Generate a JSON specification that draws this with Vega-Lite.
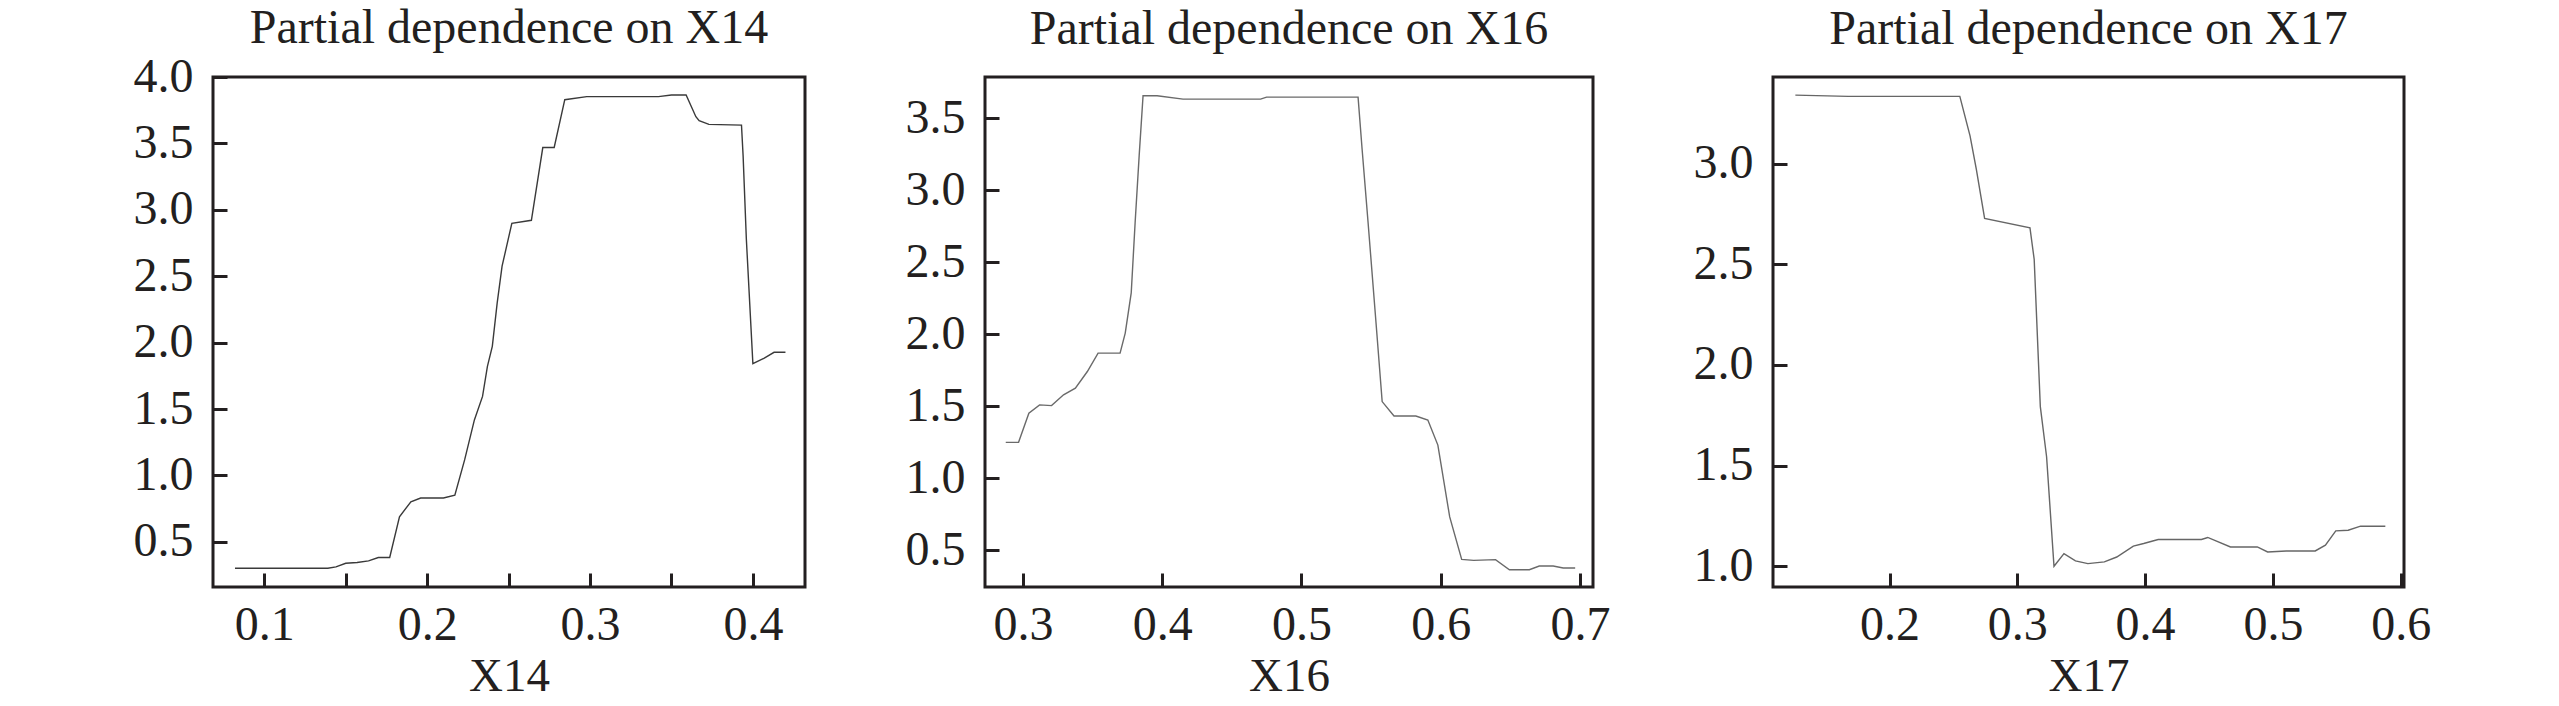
{
  "$schema": "https://vega.github.io/schema/vega-lite/v6.json",
  "background": "white",
  "padding": {"left": 131, "top": 3, "right": 5, "bottom": 0},
  "bounds": "flush",
  "spacing": 180,
  "config": {
    "font": "Liberation Serif",
    "view": {"stroke": "#231f20", "strokeWidth": 3},
    "title": {"font": "Liberation Serif", "fontSize": 48, "fontWeight": "normal", "color": "#231f20", "baseline": "alphabetic", "offset": 23, "frame": "group", "anchor": "middle"},
    "axis": {
      "grid": false, "domain": false,
      "tickColor": "#231f20", "tickWidth": 3, "tickSize": -14,
      "labelFont": "Liberation Serif", "labelFontSize": 48, "labelColor": "#231f20",
      "labelFlush": false, "labelOverlap": false,
      "titleFont": "Liberation Serif", "titleFontSize": 47, "titleFontWeight": "normal", "titleColor": "#231f20"
    },
    "axisX": {"labelPadding": 28},
    "axisY": {"labelPadding": 34}
  },
  "datasets": {
    "x14": [
      {"x": 0.082, "y": 0.301}, {"x": 0.139, "y": 0.301}, {"x": 0.144, "y": 0.311}, {"x": 0.150, "y": 0.339},
      {"x": 0.157, "y": 0.344}, {"x": 0.164, "y": 0.357}, {"x": 0.170, "y": 0.382}, {"x": 0.177, "y": 0.382},
      {"x": 0.183, "y": 0.689}, {"x": 0.190, "y": 0.802}, {"x": 0.196, "y": 0.830}, {"x": 0.210, "y": 0.830},
      {"x": 0.217, "y": 0.852}, {"x": 0.223, "y": 1.117}, {"x": 0.229, "y": 1.418}, {"x": 0.234, "y": 1.595},
      {"x": 0.237, "y": 1.821}, {"x": 0.240, "y": 1.972}, {"x": 0.243, "y": 2.299}, {"x": 0.246, "y": 2.576},
      {"x": 0.252, "y": 2.898}, {"x": 0.264, "y": 2.921}, {"x": 0.271, "y": 3.469}, {"x": 0.278, "y": 3.469},
      {"x": 0.2845, "y": 3.829}, {"x": 0.298, "y": 3.852}, {"x": 0.342, "y": 3.852}, {"x": 0.350, "y": 3.864},
      {"x": 0.359, "y": 3.864}, {"x": 0.365, "y": 3.701}, {"x": 0.367, "y": 3.671}, {"x": 0.373, "y": 3.643},
      {"x": 0.393, "y": 3.638}, {"x": 0.394, "y": 3.406}, {"x": 0.396, "y": 2.777}, {"x": 0.400, "y": 1.841},
      {"x": 0.407, "y": 1.884}, {"x": 0.413, "y": 1.927}, {"x": 0.420, "y": 1.927}
    ],
    "x16": [
      {"x": 0.2877, "y": 1.250}, {"x": 0.2969, "y": 1.250}, {"x": 0.3043, "y": 1.452}, {"x": 0.312, "y": 1.510},
      {"x": 0.3206, "y": 1.505}, {"x": 0.3292, "y": 1.580}, {"x": 0.3377, "y": 1.626}, {"x": 0.3463, "y": 1.742},
      {"x": 0.354, "y": 1.870}, {"x": 0.3698, "y": 1.870}, {"x": 0.3735, "y": 2.009}, {"x": 0.3778, "y": 2.288},
      {"x": 0.3806, "y": 2.775}, {"x": 0.3835, "y": 3.240}, {"x": 0.3863, "y": 3.658}, {"x": 0.3964, "y": 3.658},
      {"x": 0.415, "y": 3.634}, {"x": 0.4707, "y": 3.634}, {"x": 0.475, "y": 3.648}, {"x": 0.5407, "y": 3.648},
      {"x": 0.5436, "y": 3.286}, {"x": 0.5479, "y": 2.775}, {"x": 0.5536, "y": 2.079}, {"x": 0.558, "y": 1.533},
      {"x": 0.5665, "y": 1.433}, {"x": 0.5822, "y": 1.433}, {"x": 0.5908, "y": 1.405}, {"x": 0.598, "y": 1.231},
      {"x": 0.6065, "y": 0.732}, {"x": 0.6151, "y": 0.437}, {"x": 0.6237, "y": 0.430}, {"x": 0.6394, "y": 0.435},
      {"x": 0.6494, "y": 0.365}, {"x": 0.6637, "y": 0.365}, {"x": 0.6708, "y": 0.391}, {"x": 0.6808, "y": 0.391},
      {"x": 0.688, "y": 0.377}, {"x": 0.6966, "y": 0.377}
    ],
    "x17": [
      {"x": 0.1263, "y": 3.340}, {"x": 0.1677, "y": 3.334}, {"x": 0.2323, "y": 3.334}, {"x": 0.255, "y": 3.334},
      {"x": 0.263, "y": 3.138}, {"x": 0.2679, "y": 2.972}, {"x": 0.2744, "y": 2.728}, {"x": 0.3099, "y": 2.681},
      {"x": 0.3132, "y": 2.524}, {"x": 0.318, "y": 1.793}, {"x": 0.3229, "y": 1.544}, {"x": 0.3287, "y": 1.000},
      {"x": 0.3365, "y": 1.063}, {"x": 0.3455, "y": 1.027}, {"x": 0.3552, "y": 1.013}, {"x": 0.3681, "y": 1.022},
      {"x": 0.3778, "y": 1.046}, {"x": 0.3908, "y": 1.100}, {"x": 0.3989, "y": 1.113}, {"x": 0.4102, "y": 1.133},
      {"x": 0.4441, "y": 1.133}, {"x": 0.449, "y": 1.143}, {"x": 0.4668, "y": 1.096}, {"x": 0.4878, "y": 1.096},
      {"x": 0.4959, "y": 1.071}, {"x": 0.5104, "y": 1.076}, {"x": 0.5331, "y": 1.076}, {"x": 0.5411, "y": 1.105},
      {"x": 0.5492, "y": 1.176}, {"x": 0.5589, "y": 1.179}, {"x": 0.5686, "y": 1.199}, {"x": 0.588, "y": 1.199}
    ]
  },
  "hconcat": [
    {
      "width": 592,
      "height": 510,
      "title": {"text": "Partial dependence on X14", "offset": 0},
      "data": {"name": "x14"},
      "mark": {"type": "line", "color": "#3a3a3a", "strokeWidth": 1.4},
      "encoding": {
        "x": {
          "field": "x", "type": "quantitative", "title": "X14",
          "scale": {"domain": [0.0685, 0.432], "nice": false, "zero": false},
          "axis": {
            "values": [0.1, 0.15, 0.2, 0.25, 0.3, 0.35, 0.4],
            "labelExpr": "abs(datum.value * 10 - round(datum.value * 10)) < 0.01 ? format(datum.value, '.1f') : ''",
            "titleBaseline": "alphabetic", "titleY": 103
          }
        },
        "y": {
          "field": "y", "type": "quantitative", "title": null,
          "scale": {"domain": [0.16, 4.0], "nice": false, "zero": false},
          "axis": {"values": [0.5, 1.0, 1.5, 2.0, 2.5, 3.0, 3.5, 4.0], "format": ".1f"}
        }
      }
    },
    {
      "width": 608,
      "height": 510,
      "title": "Partial dependence on X16",
      "data": {"name": "x16"},
      "mark": {"type": "line", "color": "#6a6a6a", "strokeWidth": 1.4},
      "encoding": {
        "x": {
          "field": "x", "type": "quantitative", "title": "X16",
          "scale": {"domain": [0.2728, 0.7094], "nice": false, "zero": false},
          "axis": {"values": [0.3, 0.4, 0.5, 0.6, 0.7], "format": ".1f", "titleBaseline": "alphabetic", "titleY": 103}
        },
        "y": {
          "field": "y", "type": "quantitative", "title": null,
          "scale": {"domain": [0.245, 3.788], "nice": false, "zero": false},
          "axis": {"values": [0.5, 1.0, 1.5, 2.0, 2.5, 3.0, 3.5], "format": ".1f"}
        }
      }
    },
    {
      "width": 631,
      "height": 510,
      "title": "Partial dependence on X17",
      "data": {"name": "x17"},
      "mark": {"type": "line", "color": "#666666", "strokeWidth": 1.4},
      "encoding": {
        "x": {
          "field": "x", "type": "quantitative", "title": "X17",
          "scale": {"domain": [0.1088, 0.6026], "nice": false, "zero": false},
          "axis": {"values": [0.2, 0.3, 0.4, 0.5, 0.6], "format": ".1f", "titleBaseline": "alphabetic", "titleY": 103}
        },
        "y": {
          "field": "y", "type": "quantitative", "title": null,
          "scale": {"domain": [0.897, 3.43], "nice": false, "zero": false},
          "axis": {"values": [1.0, 1.5, 2.0, 2.5, 3.0], "format": ".1f"}
        }
      }
    }
  ]
}
